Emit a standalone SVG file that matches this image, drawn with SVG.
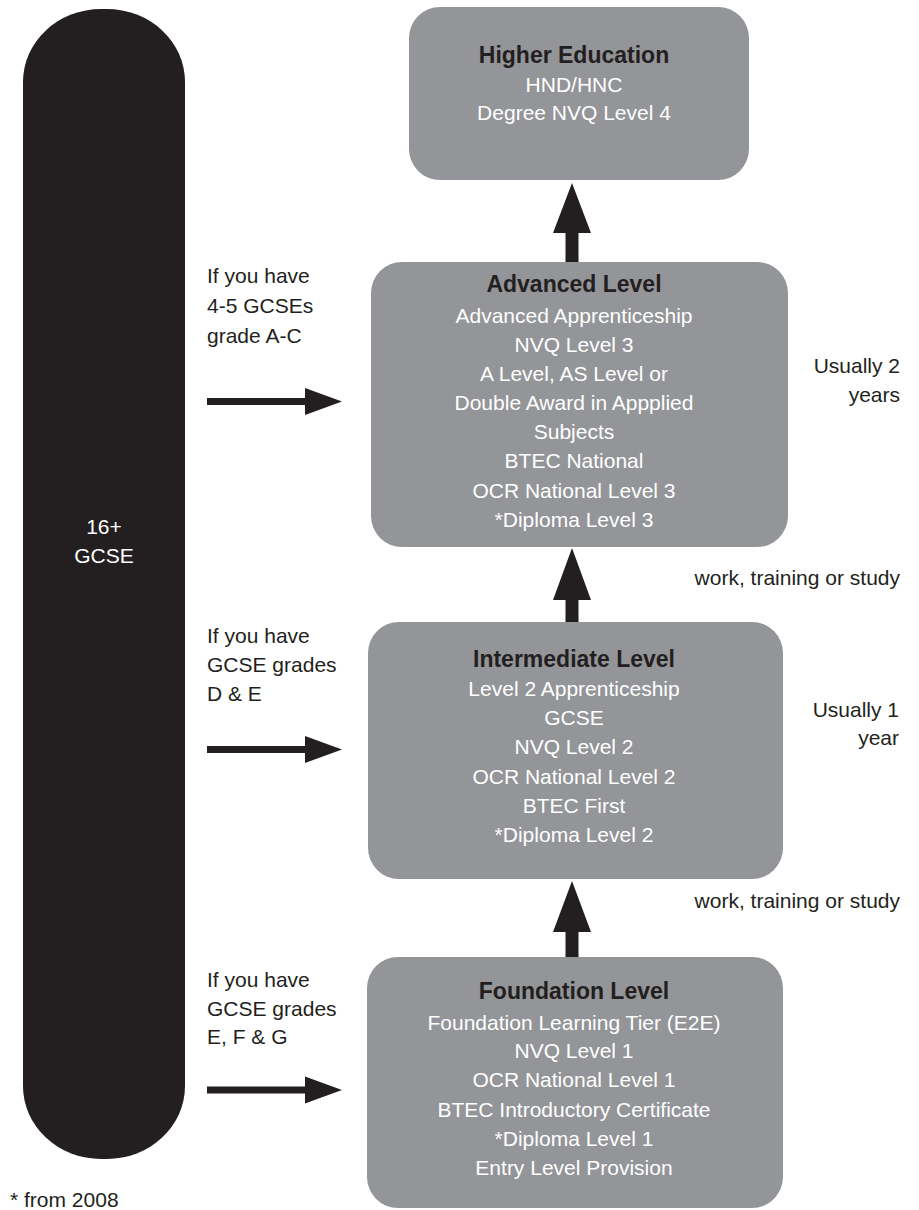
<svg xmlns="http://www.w3.org/2000/svg" width="919" height="1210" viewBox="0 0 919 1210">
<style>
.box{fill:#939598}
.t{font-family:"Liberation Sans",Arial,Helvetica,sans-serif;font-size:21px}
.ttl{font-family:"Liberation Sans",Arial,Helvetica,sans-serif;font-size:23px;font-weight:bold;fill:#231f20;text-anchor:middle}
.w{fill:#ffffff;text-anchor:middle}
.d{fill:#231f20}
.r{fill:#231f20;text-anchor:end}
.arr{fill:#231f20}
</style>
<rect width="919" height="1210" fill="#ffffff"/>
<g id="gcse">
<rect x="23" y="9" width="162" height="1150" rx="78" ry="73" fill="#231f20"/>
<text class="t w" x="104" y="534">16+</text>
<text class="t w" x="104" y="563">GCSE</text>
</g>
<g id="higher">
<rect class="box" x="409" y="7" width="340" height="173" rx="31"/>
<text class="ttl" x="574" y="63">Higher Education</text>
<text class="t w" x="574" y="92">HND/HNC</text>
<text class="t w" x="574" y="120">Degree NVQ Level 4</text>
</g>
<g id="advanced">
<rect class="box" x="371" y="262" width="417" height="285" rx="31"/>
<text class="ttl" x="574" y="292">Advanced Level</text>
<text class="t w" x="574" y="323">Advanced Apprenticeship</text>
<text class="t w" x="574" y="352">NVQ Level 3</text>
<text class="t w" x="574" y="381">A Level, AS Level or</text>
<text class="t w" x="574" y="410">Double Award in Appplied</text>
<text class="t w" x="574" y="439">Subjects</text>
<text class="t w" x="574" y="468">BTEC National</text>
<text class="t w" x="574" y="498">OCR National Level 3</text>
<text class="t w" x="574" y="527">*Diploma Level 3</text>
</g>
<g id="intermediate">
<rect class="box" x="368" y="622" width="415" height="257" rx="31"/>
<text class="ttl" x="574" y="667">Intermediate Level</text>
<text class="t w" x="574" y="696">Level 2 Apprenticeship</text>
<text class="t w" x="574" y="725">GCSE</text>
<text class="t w" x="574" y="754">NVQ Level 2</text>
<text class="t w" x="574" y="784">OCR National Level 2</text>
<text class="t w" x="574" y="813">BTEC First</text>
<text class="t w" x="574" y="842">*Diploma Level 2</text>
</g>
<g id="foundation">
<rect class="box" x="367" y="957" width="416" height="251" rx="31"/>
<text class="ttl" x="574" y="999">Foundation Level</text>
<text class="t w" x="574" y="1030">Foundation Learning Tier (E2E)</text>
<text class="t w" x="574" y="1058">NVQ Level 1</text>
<text class="t w" x="574" y="1087">OCR National Level 1</text>
<text class="t w" x="574" y="1117">BTEC Introductory Certificate</text>
<text class="t w" x="574" y="1146">*Diploma Level 1</text>
<text class="t w" x="574" y="1175">Entry Level Provision</text>
</g>
<g id="labels">
<text class="t d" x="207" y="283">If you have</text>
<text class="t d" x="207" y="313">4-5 GCSEs</text>
<text class="t d" x="207" y="343">grade A-C</text>
<text class="t d" x="207" y="643">If you have</text>
<text class="t d" x="207" y="672">GCSE grades</text>
<text class="t d" x="207" y="701">D &amp; E</text>
<text class="t d" x="207" y="987">If you have</text>
<text class="t d" x="207" y="1016">GCSE grades</text>
<text class="t d" x="207" y="1044">E, F &amp; G</text>
<text class="t r" x="900" y="373">Usually 2</text>
<text class="t r" x="900" y="402">years</text>
<text class="t r" x="900" y="585">work, training or study</text>
<text class="t r" x="899" y="717">Usually 1</text>
<text class="t r" x="899" y="745">year</text>
<text class="t r" x="900" y="908">work, training or study</text>
<text class="t d" x="10" y="1207">* from 2008</text>
</g>
<g id="connectors">
<polygon class="arr" points="572,183 591,233 578.5,233 578.5,262 565.5,262 565.5,233 553,233"/>
<polygon class="arr" points="572,548 591,600 578.5,600 578.5,622 565.5,622 565.5,600 553,600"/>
<polygon class="arr" points="572,881 591,932 578.5,932 578.5,957 565.5,957 565.5,932 553,932"/>
<polygon class="arr" points="207,398 305,398 305,388 342,401.5 305,415 305,405 207,405"/>
<polygon class="arr" points="207,746 305,746 305,736 342,749.5 305,763 305,753 207,753"/>
<polygon class="arr" points="207,1086.5 305,1086.5 305,1076.5 342,1090 305,1103.5 305,1093.5 207,1093.5"/>
</g>
</svg>
